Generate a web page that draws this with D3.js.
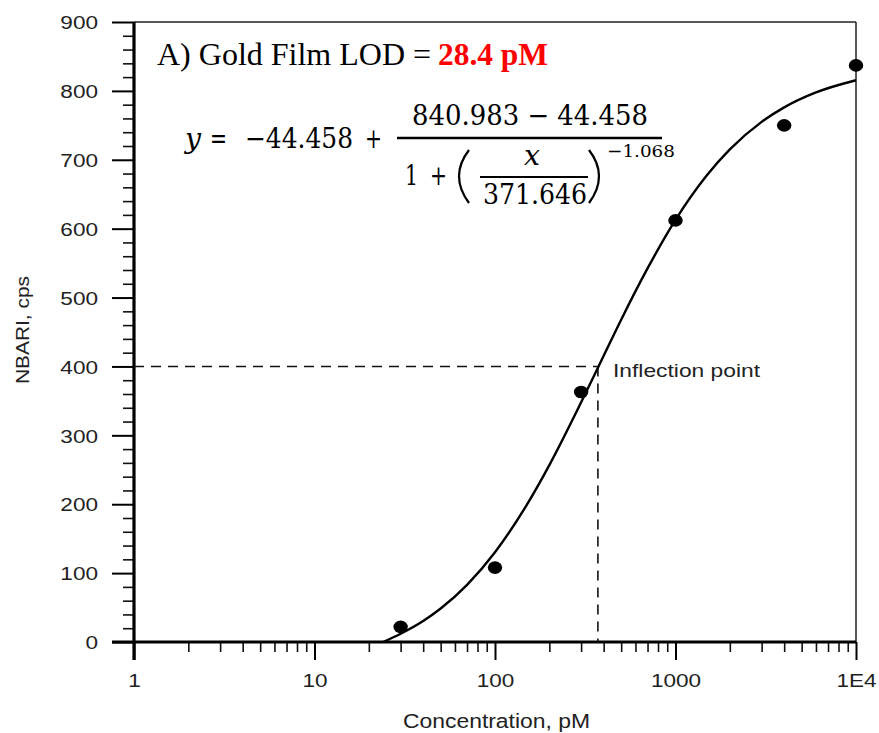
<!DOCTYPE html>
<html>
<head>
<meta charset="utf-8">
<script src="https://cdn.jsdelivr.net/npm/d3@7"></script>
<style>
  html, body { margin: 0; padding: 0; background: #fff; }
  svg { display: block; }
</style>
</head>
<body>
<svg id="chart" width="879" height="733"></svg>
<script>
// ---- data ----
const concentrations = [30, 100, 300, 1000, 4000, 10000];
const signals = [22, 108, 363, 612, 750, 837];
// fitted curve samples
const curveX = [24, 30, 40, 50, 70, 100, 150, 200, 300, 400, 500, 700, 1000, 1500, 2000, 3000, 4000, 6000, 10000];
const curveY = [0, 12, 30.5, 48.6, 83, 130.4, 199.1, 256.8, 347.9, 415.5, 467.9, 542.3, 612.7, 678.1, 715, 755, 776.1, 797.8, 815.5];
const inflectionX = 371.646;
const inflectionY = 400;
const xTickValues = [1, 10, 100, 1000, 10000];
const xTickLabels = ["1", "10", "100", "1000", "1E4"];
const yTickValues = [0, 100, 200, 300, 400, 500, 600, 700, 800, 900];

// ---- layout ----
const L = 134, R = 856, T = 22, B = 642;
const svg = d3.select("#chart");
const x = d3.scaleLog().domain([1, 1e4]).range([L, R]);
const y = d3.scaleLinear().domain([0, 900]).range([B, T]);
const SANS = "'Liberation Sans', Arial, sans-serif";
const SERIF = "'Liberation Serif', 'Times New Roman', serif";
const MATH = "'DejaVu Serif', 'Liberation Serif', serif";
const STRETCH = 1.22;

// frame (top & right)
svg.append("line").attr("x1", L).attr("x2", R).attr("y1", T).attr("y2", T)
  .attr("stroke", "#222").attr("stroke-width", 1.5);
svg.append("line").attr("x1", R).attr("x2", R).attr("y1", T).attr("y2", B)
  .attr("stroke", "#222").attr("stroke-width", 1.5);

// minor ticks
const yMinor = d3.range(0, 901, 20).filter(v => v % 100 !== 0);
svg.append("g").attr("transform", `translate(${L},0)`)
  .call(d3.axisLeft(y).tickValues(yMinor).tickSize(11).tickSizeOuter(0).tickFormat(""))
  .call(g => g.select(".domain").remove())
  .call(g => g.selectAll("line").attr("stroke", "#111").attr("stroke-width", 1.6));

const xMinor = [];
[1, 10, 100, 1000].forEach(d => { for (let k = 2; k <= 9; k++) xMinor.push(d * k); });
svg.append("g").attr("transform", `translate(0,${B})`)
  .call(d3.axisBottom(x).tickValues(xMinor).tickSize(10).tickSizeOuter(0).tickFormat(""))
  .call(g => g.select(".domain").remove())
  .call(g => g.selectAll("line").attr("stroke", "#111").attr("stroke-width", 1.6));

// major y axis
const yAxis = svg.append("g").attr("transform", `translate(${L},0)`)
  .call(d3.axisLeft(y).tickValues(yTickValues).tickSize(22).tickSizeOuter(0).tickPadding(36));
yAxis.select(".domain").attr("stroke", "#000").attr("stroke-width", 3.2)
  .attr("d", `M0,${T}V${B + 18}`);
yAxis.selectAll("line").attr("stroke", "#000").attr("stroke-width", 2);
yAxis.selectAll("text")
  .attr("font-family", SANS).attr("font-size", 18.5).attr("fill", "#222")
  .attr("x", 0).attr("dy", "0.36em")
  .attr("transform", `translate(-36,0) scale(${STRETCH},1)`);

// major x axis
const xAxis = svg.append("g").attr("transform", `translate(0,${B})`)
  .call(d3.axisBottom(x).tickValues(xTickValues).tickSize(18).tickSizeOuter(0)
    .tickFormat((d, i) => xTickLabels[i]));
xAxis.select(".domain").attr("stroke", "#000").attr("stroke-width", 3.2)
  .attr("d", `M${L - 22},0H${R}`);
xAxis.selectAll("line").attr("stroke", "#000").attr("stroke-width", 2);
xAxis.selectAll("text")
  .attr("font-family", SANS).attr("font-size", 18.5).attr("fill", "#222")
  .attr("y", 0).attr("dy", 0)
  .attr("transform", `translate(0,45) scale(${STRETCH},1)`);

// axis titles
svg.append("text").attr("x", 496.5).attr("y", 728)
  .attr("text-anchor", "middle").attr("font-family", SANS).attr("font-size", 19.5)
  .attr("fill", "#222").attr("textLength", 187).attr("lengthAdjust", "spacingAndGlyphs")
  .text("Concentration, pM");
svg.append("text").attr("transform", "translate(29,330) rotate(-90)")
  .attr("text-anchor", "middle").attr("font-family", SANS).attr("font-size", 19)
  .attr("fill", "#222").attr("textLength", 108).attr("lengthAdjust", "spacingAndGlyphs")
  .text("NBARI, cps");

// dashed inflection guides
svg.append("line").attr("x1", L).attr("x2", x(inflectionX))
  .attr("y1", y(inflectionY)).attr("y2", y(inflectionY))
  .attr("stroke", "#111").attr("stroke-width", 1.6).attr("stroke-dasharray", "10,7");
svg.append("line").attr("x1", x(inflectionX)).attr("x2", x(inflectionX))
  .attr("y1", y(inflectionY)).attr("y2", B)
  .attr("stroke", "#111").attr("stroke-width", 1.6).attr("stroke-dasharray", "10,7");
svg.append("text").attr("x", 613).attr("y", 377)
  .attr("font-family", SANS).attr("font-size", 19).attr("fill", "#222")
  .attr("textLength", 147).attr("lengthAdjust", "spacingAndGlyphs")
  .text("Inflection point");

// fitted curve
const line = d3.line().x(d => x(d[0])).y(d => y(d[1])).curve(d3.curveMonotoneX);
svg.append("path").datum(curveX.map((v, i) => [v, curveY[i]]))
  .attr("d", line).attr("fill", "none").attr("stroke", "#000").attr("stroke-width", 2.4);

// data points
svg.append("g").selectAll("ellipse").data(concentrations).join("ellipse")
  .attr("cx", d => x(d)).attr("cy", (d, i) => y(signals[i]))
  .attr("rx", 7.2).attr("ry", 6.3).attr("fill", "#000");

// title
svg.append("text").attr("x", 157).attr("y", 65)
  .attr("font-family", SERIF).attr("font-size", 32).attr("fill", "#000")
  .text("A) Gold Film LOD = ");
svg.append("text").attr("x", 438).attr("y", 65)
  .attr("font-family", SERIF).attr("font-size", 32).attr("font-weight", "bold")
  .attr("fill", "#ff0000").attr("textLength", 110).attr("lengthAdjust", "spacingAndGlyphs")
  .text("28.4 pM");

// equation
const eq = svg.append("g").attr("font-family", MATH).attr("fill", "#000");
function t(txt, xx, yy, size, len, italic) {
  const e = eq.append("text").attr("x", xx).attr("y", yy).attr("font-size", size).text(txt);
  if (len) e.attr("textLength", len).attr("lengthAdjust", "spacingAndGlyphs");
  if (italic) e.attr("font-style", "italic");
  return e;
}
t("y", 185, 148, 28, 16, true);
t("=", 210, 148, 28, 17);
t("\u221244.458", 245, 148, 28, 108);
t("+", 365, 148, 28, 17);
t("840.983 \u2212 44.458", 412, 125, 28, 236);
eq.append("line").attr("x1", 397).attr("x2", 662).attr("y1", 138).attr("y2", 138)
  .attr("stroke", "#000").attr("stroke-width", 2.4);
t("1", 405, 185, 28, 13);
t("+", 430, 185, 28, 17);
eq.append("path").attr("d", "M469,150 Q449,176 469,203").attr("fill", "none")
  .attr("stroke", "#000").attr("stroke-width", 2.2);
t("x", 524, 165, 28, 16, true);
eq.append("line").attr("x1", 480).attr("x2", 588).attr("y1", 177).attr("y2", 177)
  .attr("stroke", "#000").attr("stroke-width", 2);
t("371.646", 483, 204, 28, 104);
eq.append("path").attr("d", "M589,150 Q609,176 589,203").attr("fill", "none")
  .attr("stroke", "#000").attr("stroke-width", 2.2);
t("\u22121.068", 607, 157, 17.5, 68);
</script>
</body>
</html>
